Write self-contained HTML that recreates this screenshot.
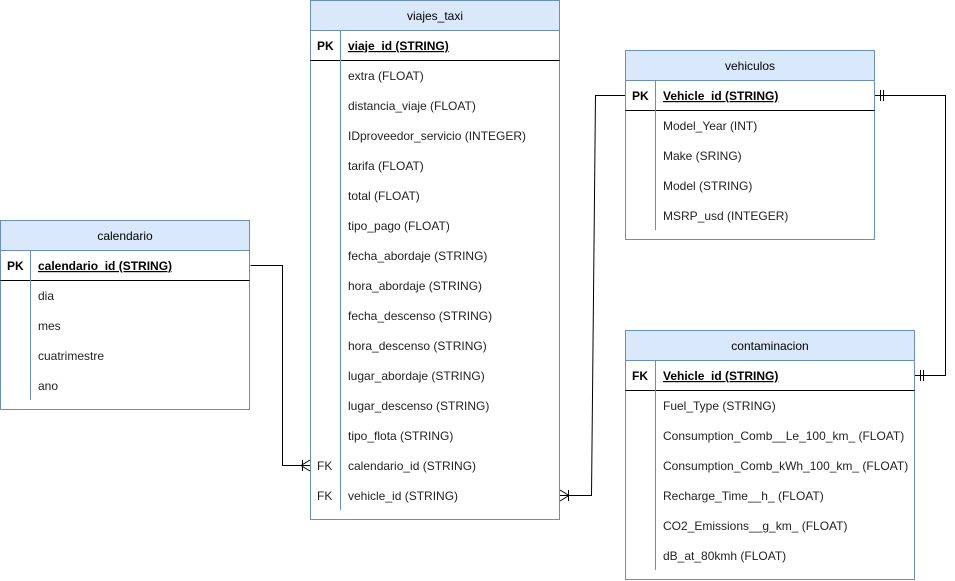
<!DOCTYPE html>
<html><head><meta charset="utf-8"><style>
html,body{margin:0;padding:0;background:#fff;}
svg{display:block;font-family:"Liberation Sans",sans-serif;font-size:12px;}
.h{fill:#000;text-anchor:middle;}
.t{fill:#222;}
.k{font-weight:bold;fill:#000;}
</style></head><body>
<svg width="955" height="581" viewBox="0 0 955 581" xmlns="http://www.w3.org/2000/svg">
<g fill="none" stroke="#000" stroke-width="1">
<polyline points="250.5,265.5 282.5,265.5 282.5,465.5 310,465.5"/>
<line x1="302.5" y1="460" x2="302.5" y2="471"/>
<line x1="310" y1="460" x2="301" y2="465.5"/><line x1="310" y1="471" x2="301" y2="465.5"/>
<polyline points="560,495.5 591.5,495.5 595.5,95.5 625,95.5"/>
<line x1="568.5" y1="490" x2="568.5" y2="501"/>
<line x1="560" y1="490" x2="569" y2="495.5"/><line x1="560" y1="501" x2="569" y2="495.5"/>
<polyline points="875,95.5 945.5,95.5 945.5,375.5 915,375.5"/>
<line x1="880.5" y1="90" x2="880.5" y2="101"/><line x1="883.5" y1="90" x2="883.5" y2="101"/>
<line x1="920.5" y1="370" x2="920.5" y2="381"/><line x1="923.5" y1="370" x2="923.5" y2="381"/>
</g>

<rect x="0.5" y="220.5" width="249" height="189" fill="#fff" stroke="#6c8ebf"/>
<rect x="0.5" y="220.5" width="249" height="30" fill="#dae8fc" stroke="#6c8ebf"/>
<line x1="0.5" y1="280.5" x2="249.5" y2="280.5" stroke="#000"/>
<line x1="30.5" y1="250.5" x2="30.5" y2="400" stroke="#6c8ebf"/>
<text class="h" x="125" y="240">calendario</text>
<text class="k" x="7" y="270">PK</text>
<text class="k" x="38" y="270" text-decoration="underline">calendario_id (STRING)</text>
<text class="t" x="38" y="300">dia</text>
<text class="t" x="38" y="330">mes</text>
<text class="t" x="38" y="360">cuatrimestre</text>
<text class="t" x="38" y="390">ano</text>

<rect x="310.5" y="0.5" width="249" height="519" fill="#fff" stroke="#6c8ebf"/>
<rect x="310.5" y="0.5" width="249" height="30" fill="#dae8fc" stroke="#6c8ebf"/>
<line x1="310.5" y1="60.5" x2="559.5" y2="60.5" stroke="#000"/>
<line x1="340.5" y1="30.5" x2="340.5" y2="510" stroke="#6c8ebf"/>
<text class="h" x="435" y="20">viajes_taxi</text>
<text class="k" x="317" y="50">PK</text>
<text class="k" x="348" y="50" text-decoration="underline">viaje_id (STRING)</text>
<text class="t" x="348" y="80">extra (FLOAT)</text>
<text class="t" x="348" y="110">distancia_viaje (FLOAT)</text>
<text class="t" x="348" y="140">IDproveedor_servicio (INTEGER)</text>
<text class="t" x="348" y="170">tarifa (FLOAT)</text>
<text class="t" x="348" y="200">total (FLOAT)</text>
<text class="t" x="348" y="230">tipo_pago (FLOAT)</text>
<text class="t" x="348" y="260">fecha_abordaje (STRING)</text>
<text class="t" x="348" y="290">hora_abordaje (STRING)</text>
<text class="t" x="348" y="320">fecha_descenso (STRING)</text>
<text class="t" x="348" y="350">hora_descenso (STRING)</text>
<text class="t" x="348" y="380">lugar_abordaje (STRING)</text>
<text class="t" x="348" y="410">lugar_descenso (STRING)</text>
<text class="t" x="348" y="440">tipo_flota (STRING)</text>
<text class="t" x="317" y="470">FK</text>
<text class="t" x="348" y="470">calendario_id (STRING)</text>
<text class="t" x="317" y="500">FK</text>
<text class="t" x="348" y="500">vehicle_id (STRING)</text>

<rect x="625.5" y="50.5" width="249" height="189" fill="#fff" stroke="#6c8ebf"/>
<rect x="625.5" y="50.5" width="249" height="30" fill="#dae8fc" stroke="#6c8ebf"/>
<line x1="625.5" y1="110.5" x2="874.5" y2="110.5" stroke="#000"/>
<line x1="655.5" y1="80.5" x2="655.5" y2="230" stroke="#6c8ebf"/>
<text class="h" x="750" y="70">vehiculos</text>
<text class="k" x="632" y="100">PK</text>
<text class="k" x="663" y="100" text-decoration="underline">Vehicle_id (STRING)</text>
<text class="t" x="663" y="130">Model_Year (INT)</text>
<text class="t" x="663" y="160">Make (SRING)</text>
<text class="t" x="663" y="190">Model (STRING)</text>
<text class="t" x="663" y="220">MSRP_usd (INTEGER)</text>

<rect x="625.5" y="330.5" width="289" height="249" fill="#fff" stroke="#6c8ebf"/>
<rect x="625.5" y="330.5" width="289" height="30" fill="#dae8fc" stroke="#6c8ebf"/>
<line x1="625.5" y1="390.5" x2="914.5" y2="390.5" stroke="#000"/>
<line x1="655.5" y1="360.5" x2="655.5" y2="570" stroke="#6c8ebf"/>
<text class="h" x="770" y="350">contaminacion</text>
<text class="k" x="632" y="380">FK</text>
<text class="k" x="663" y="380" text-decoration="underline">Vehicle_id (STRING)</text>
<text class="t" x="663" y="410">Fuel_Type (STRING)</text>
<text class="t" x="663" y="440">Consumption_Comb__Le_100_km_ (FLOAT)</text>
<text class="t" x="663" y="470">Consumption_Comb_kWh_100_km_ (FLOAT)</text>
<text class="t" x="663" y="500">Recharge_Time__h_ (FLOAT)</text>
<text class="t" x="663" y="530">CO2_Emissions__g_km_ (FLOAT)</text>
<text class="t" x="663" y="560">dB_at_80kmh (FLOAT)</text>
</svg>
</body></html>
